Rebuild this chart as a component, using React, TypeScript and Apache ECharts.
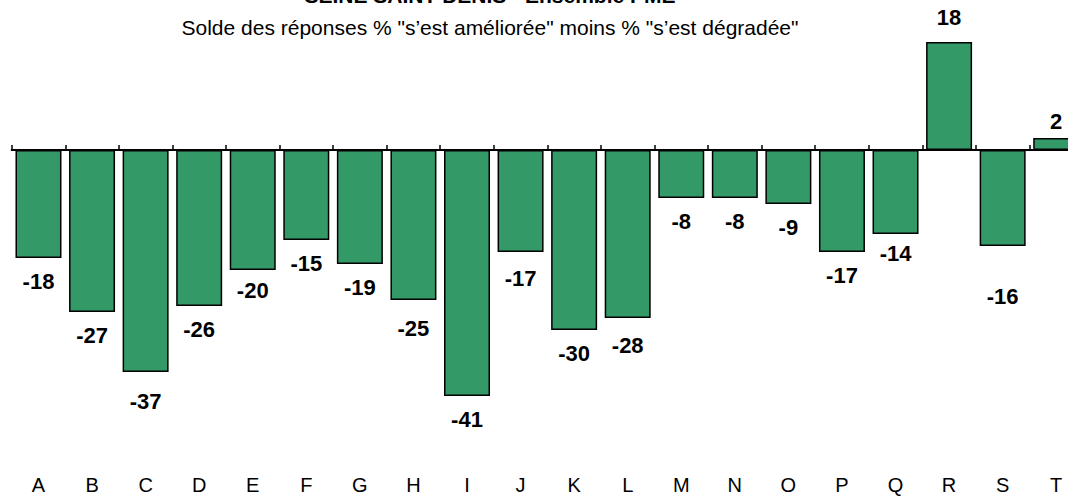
import React, { useEffect, useRef } from "react";
import * as echarts from "echarts";

const categories = ["A", "B", "C", "D", "E", "F", "G", "H", "I", "J", "K", "L", "M", "N", "O", "P", "Q", "R", "S", "T"];
const values = [-18, -27, -37, -26, -20, -15, -19, -25, -41, -17, -30, -28, -8, -8, -9, -17, -14, 18, -16, 2];
// small vertical nudges of the value labels, as placed in the original chart
const labelNudges = [0, 0, 6, 0, -3, 0, 0, 5, 0, 3, 0, 4, 0, 0, 0, 0, -4, -2, 27, 6];
const titleText = "SEINE SAINT-DENIS - Ensemble PME";
const subtitleText = "Solde des réponses % \"s\u2019est améliorée\" moins % \"s\u2019est dégradée\"";

const FONT = "Arial, 'Liberation Sans', sans-serif";

export default function App() {
  const ref = useRef<HTMLDivElement>(null);
  useEffect(() => {
    if (!ref.current) return;
    const chart = echarts.init(ref.current, null, { renderer: "svg" });
    chart.setOption({
      animation: false,
      textStyle: { fontFamily: FONT },
      graphic: [
        {
          type: "text",
          x: 490,
          y: 6,
          style: {
            text: titleText,
            font: "bold 21px " + FONT,
            fill: "#000",
            textAlign: "center",
            textVerticalAlign: "bottom",
          },
        },
        {
          type: "text",
          x: 490,
          y: 27,
          style: {
            text: subtitleText,
            font: "21px " + FONT,
            fill: "#000",
            textAlign: "center",
            textVerticalAlign: "middle",
          },
        },
      ],
      grid: { left: 11.7, right: 0, top: 0, bottom: 24, containLabel: false },
      xAxis: [
        {
          type: "category",
          data: categories,
          position: "bottom",
          axisLine: { show: false, onZero: false },
          axisTick: { show: false },
          axisLabel: { fontSize: 20, color: "#000", margin: 1, fontFamily: FONT },
        },
        {
          type: "category",
          data: categories,
          position: "bottom",
          axisLine: { show: true, onZero: true, lineStyle: { color: "#000", width: 2 } },
          axisTick: { show: true, inside: true, length: 5, lineStyle: { color: "#000", width: 1.5 } },
          axisLabel: { show: false },
        },
      ],
      yAxis: {
        type: "value",
        min: -54,
        max: 25,
        show: false,
        splitLine: { show: false },
      },
      series: [
        {
          type: "bar",
          xAxisIndex: 0,
          barWidth: 46,
          data: values.map((v, i) => ({
            value: v,
            label: { position: v < 0 ? "bottom" : "top", offset: [0, labelNudges[i]] },
          })),
          itemStyle: { color: "#339966", borderColor: "#000", borderWidth: 1.5 },
          label: {
            show: true,
            distance: 12,
            fontSize: 22,
            fontWeight: "bold",
            color: "#000",
            fontFamily: FONT,
          },
          z: 1,
        },
      ],
    });
    return () => chart.dispose();
  }, []);
  return (
    <div style={{ position: "absolute", left: 0, top: 0, width: 1068, height: 498, overflow: "hidden" }}>
      <div ref={ref} style={{ position: "absolute", left: 0, top: 0, width: 1083, height: 498 }} />
    </div>
  );
}
